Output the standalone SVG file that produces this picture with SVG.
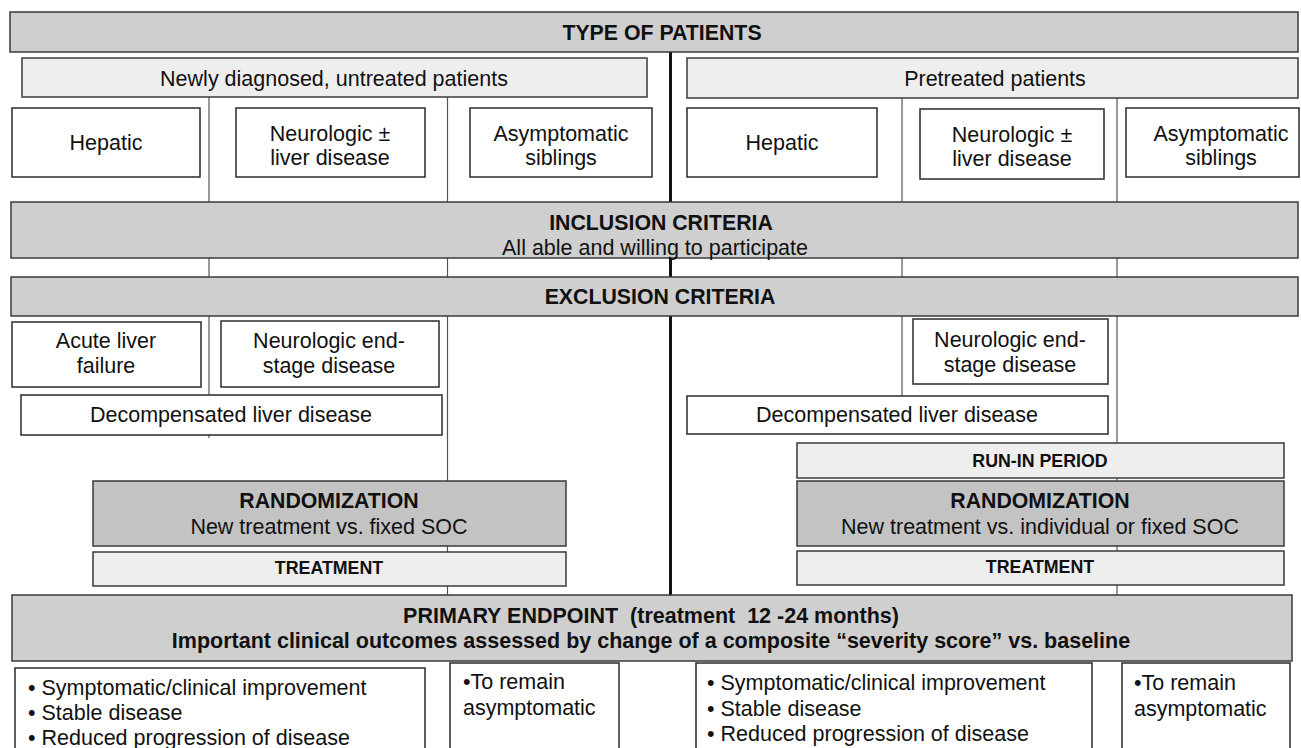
<svg xmlns="http://www.w3.org/2000/svg" width="1301" height="748" viewBox="0 0 1301 748">
<style>
  .bar { fill: #cfcfcf; stroke: #3a3a3a; stroke-width: 1.5; }
  .light { fill: #eeeeee; stroke: #3a3a3a; stroke-width: 1.5; }
  .rand { fill: #c3c3c3; stroke: #3a3a3a; stroke-width: 1.5; }
  .box { fill: #ffffff; stroke: #2a2a2a; stroke-width: 1.5; }
  .thin { stroke: #555555; stroke-width: 1.2; fill: none; }
  .thick { stroke: #111111; stroke-width: 3; fill: none; }
  text { font-family: "Liberation Sans", Arial, sans-serif; fill: #111111; }
  .t { font-size: 21.5px; text-anchor: middle; }
  .tl { font-size: 21.5px; text-anchor: start; }
  .b { font-size: 21.3px; font-weight: bold; text-anchor: middle; }
  .bp { font-size: 21.5px; font-weight: bold; text-anchor: middle; }
  .s { font-size: 17.8px; font-weight: bold; text-anchor: middle; }
  .pre { white-space: pre; }
</style>
<rect width="1301" height="748" fill="#ffffff"/>
<g id="connectors">
  <line class="thick" x1="670.5" y1="52" x2="670.5" y2="595"/>
  <line class="thin" x1="209" y1="97" x2="209" y2="438"/>
  <line class="thin" x1="447.5" y1="97" x2="447.5" y2="595"/>
  <line class="thin" x1="902" y1="98" x2="902" y2="396"/>
  <line class="thin" x1="1117" y1="98" x2="1117" y2="595"/>
</g>
<g id="type-of-patients">
  <rect class="bar" x="10" y="12" width="1288" height="40"/>
  <text class="b" x="662" y="40">TYPE OF PATIENTS</text>
</g>
<g id="newly-diagnosed">
  <rect class="light" x="22" y="58" width="625" height="39"/>
  <text class="t" x="334" y="86">Newly diagnosed, untreated patients</text>
</g>
<g id="pretreated">
  <rect class="light" x="687" y="58" width="611" height="40"/>
  <text class="t" x="995" y="86">Pretreated patients</text>
</g>
<g id="hepatic-left">
  <rect class="box" x="12" y="108" width="188" height="69"/>
  <text class="t" x="106" y="150">Hepatic</text>
</g>
<g id="neurologic-left">
  <rect class="box" x="236" y="108" width="189" height="69"/>
  <text class="t" x="330" y="141">Neurologic ±</text>
  <text class="t" x="330" y="165">liver disease</text>
</g>
<g id="asymptomatic-left">
  <rect class="box" x="470" y="108" width="182" height="69"/>
  <text class="t" x="561" y="141">Asymptomatic</text>
  <text class="t" x="561" y="165">siblings</text>
</g>
<g id="hepatic-right">
  <rect class="box" x="687" y="108" width="190" height="69"/>
  <text class="t" x="782" y="150">Hepatic</text>
</g>
<g id="neurologic-right">
  <rect class="box" x="920" y="109" width="184" height="70"/>
  <text class="t" x="1012" y="142">Neurologic ±</text>
  <text class="t" x="1012" y="166">liver disease</text>
</g>
<g id="asymptomatic-right">
  <rect class="box" x="1126" y="108" width="173" height="69"/>
  <text class="t" x="1221" y="141">Asymptomatic</text>
  <text class="t" x="1221" y="165">siblings</text>
</g>
<g id="inclusion-criteria">
  <rect class="bar" x="11" y="202" width="1287" height="56"/>
  <text class="b" x="661" y="230">INCLUSION CRITERIA</text>
  <text class="t" x="655" y="255">All able and willing to participate</text>
</g>
<g id="exclusion-criteria">
  <rect class="bar" x="11" y="277" width="1287" height="39"/>
  <text class="b" x="660" y="304">EXCLUSION CRITERIA</text>
</g>
<g id="acute-liver-failure">
  <rect class="box" x="12" y="322" width="189" height="65"/>
  <text class="t" x="106" y="348">Acute liver</text>
  <text class="t" x="106" y="373">failure</text>
</g>
<g id="neuro-endstage-left">
  <rect class="box" x="221" y="321" width="218" height="66"/>
  <text class="t" x="329" y="348">Neurologic end-</text>
  <text class="t" x="329" y="373">stage disease</text>
</g>
<g id="decompensated-left">
  <rect class="box" x="21" y="395" width="421" height="40"/>
  <text class="t" x="231" y="422">Decompensated liver disease</text>
</g>
<g id="neuro-endstage-right">
  <rect class="box" x="913" y="319" width="195" height="65"/>
  <text class="t" x="1010" y="347">Neurologic end-</text>
  <text class="t" x="1010" y="372">stage disease</text>
</g>
<g id="decompensated-right">
  <rect class="box" x="687" y="396" width="421" height="38"/>
  <text class="t" x="897" y="422">Decompensated liver disease</text>
</g>
<g id="run-in-period">
  <rect class="light" x="797" y="443" width="487" height="35"/>
  <text class="s" x="1040" y="467">RUN-IN PERIOD</text>
</g>
<g id="randomization-right">
  <rect class="rand" x="797" y="481" width="487" height="65"/>
  <text class="b" x="1040" y="508">RANDOMIZATION</text>
  <text class="t" x="1040" y="534">New treatment vs. individual or fixed SOC</text>
</g>
<g id="treatment-right">
  <rect class="light" x="797" y="551" width="487" height="34"/>
  <text class="s" x="1040" y="573">TREATMENT</text>
</g>
<g id="randomization-left">
  <rect class="rand" x="93" y="481" width="473" height="65"/>
  <text class="b" x="329" y="508">RANDOMIZATION</text>
  <text class="t" x="329" y="534">New treatment vs. fixed SOC</text>
</g>
<g id="treatment-left">
  <rect class="light" x="93" y="552" width="473" height="34"/>
  <text class="s" x="329" y="574">TREATMENT</text>
</g>
<g id="primary-endpoint">
  <rect class="bar" x="12" y="595" width="1280" height="66"/>
  <text class="bp pre" x="651" y="623">PRIMARY ENDPOINT  (treatment  12 -24 months)</text>
  <text class="bp" x="651" y="648">Important clinical outcomes assessed by change of a composite “severity score” vs. baseline</text>
</g>
<g id="outcomes-left">
  <rect class="box" x="15" y="668" width="410" height="100"/>
  <text class="tl" x="28" y="695">• Symptomatic/clinical improvement</text>
  <text class="tl" x="28" y="720">• Stable disease</text>
  <text class="tl" x="28" y="745">• Reduced progression of disease</text>
</g>
<g id="remain-left">
  <rect class="box" x="450" y="663" width="169" height="100"/>
  <text class="tl" x="463" y="689">•To remain</text>
  <text class="tl" x="463" y="715">asymptomatic</text>
</g>
<g id="outcomes-right">
  <rect class="box" x="696" y="663" width="396" height="100"/>
  <text class="tl" x="707" y="690">• Symptomatic/clinical improvement</text>
  <text class="tl" x="707" y="716">• Stable disease</text>
  <text class="tl" x="707" y="741">• Reduced progression of disease</text>
</g>
<g id="remain-right">
  <rect class="box" x="1122" y="663" width="168" height="100"/>
  <text class="tl" x="1134" y="690">•To remain</text>
  <text class="tl" x="1134" y="716">asymptomatic</text>
</g>
</svg>
